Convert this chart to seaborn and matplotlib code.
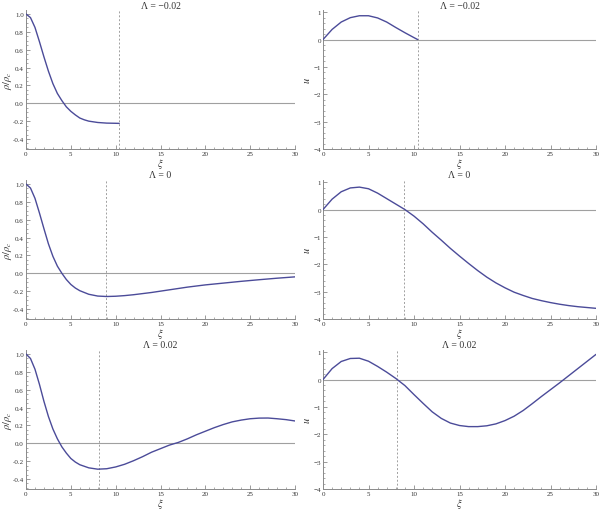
import matplotlib
matplotlib.use("Agg")
import matplotlib.pyplot as plt
import seaborn as sns
from matplotlib.ticker import MultipleLocator, FormatStrFormatter

# values
titles = ["Λ = −0.02", "Λ = 0", "Λ = 0.02"]
xi_zero = [10.4, 8.95, 8.1]   # where u falls to zero (dashed line)

# row 1: Λ = -0.02
xi_rho_a = [0, 0.5, 1, 1.5, 2, 2.5, 3, 3.5, 4, 4.5, 5, 5.5, 6, 6.5, 7, 8, 9, 10, 10.4]
rho_a = [1.0, 0.96, 0.85, 0.69, 0.52, 0.36, 0.22, 0.11, 0.03, -0.04, -0.09, -0.13,
         -0.165, -0.185, -0.2, -0.215, -0.222, -0.224, -0.225]
xi_u_a = [0, 1, 2, 3, 4, 5, 6, 7, 8, 9, 10, 10.4]
u_a = [0, 0.37, 0.64, 0.80, 0.87, 0.87, 0.79, 0.64, 0.44, 0.25, 0.07, 0.0]

# row 2: Λ = 0
xi_rho_b = [0, 0.5, 1, 1.5, 2, 2.5, 3, 3.5, 4, 4.5, 5, 5.5, 6, 7, 8, 9, 10, 11, 12,
            14, 16, 18, 20, 22, 24, 26, 28, 30]
rho_b = [1.0, 0.955, 0.84, 0.675, 0.5, 0.33, 0.19, 0.08, 0.0, -0.07, -0.125, -0.165,
         -0.195, -0.235, -0.255, -0.26, -0.257, -0.25, -0.24, -0.215, -0.185, -0.155,
         -0.13, -0.11, -0.09, -0.072, -0.055, -0.04]
xi_u_b = list(range(0, 31))
u_b = [0, 0.38, 0.65, 0.79, 0.82, 0.76, 0.60, 0.40, 0.20, 0.0, -0.24, -0.52, -0.83,
       -1.12, -1.42, -1.70, -1.97, -2.23, -2.47, -2.68, -2.86, -3.02, -3.14, -3.25,
       -3.33, -3.40, -3.46, -3.51, -3.55, -3.58, -3.61]

# row 3: Λ = 0.02
xi_rho_c = [0, 0.5, 1, 1.5, 2, 2.5, 3, 3.5, 4, 4.5, 5, 5.5, 6, 7, 8, 9, 10, 11, 12,
            13, 14, 15, 16, 17, 18, 19, 20, 21, 22, 23, 24, 25, 26, 27, 28, 29, 30]
rho_c = [1.0, 0.95, 0.83, 0.66, 0.47, 0.3, 0.16, 0.05, -0.04, -0.11, -0.17, -0.21,
         -0.24, -0.275, -0.29, -0.285, -0.265, -0.235, -0.195, -0.15, -0.1, -0.06,
         -0.02, 0.01, 0.05, 0.095, 0.135, 0.175, 0.21, 0.24, 0.26, 0.275, 0.282,
         0.283, 0.275, 0.265, 0.25]
xi_u_c = list(range(0, 31))
u_c = [0, 0.40, 0.66, 0.77, 0.78, 0.67, 0.48, 0.27, 0.04, -0.22, -0.55, -0.87, -1.18,
       -1.42, -1.59, -1.68, -1.72, -1.72, -1.69, -1.62, -1.50, -1.34, -1.13, -0.88,
       -0.62, -0.37, -0.12, 0.14, 0.40, 0.66, 0.92]

rows = [(xi_rho_a, rho_a, xi_u_a, u_a),
        (xi_rho_b, rho_b, xi_u_b, u_b),
        (xi_rho_c, rho_c, xi_u_c, u_c)]

sns.set_theme(style="ticks")
plt.rcParams['font.family'] = ['Liberation Serif', 'DejaVu Serif']
plt.rcParams['mathtext.fontset'] = 'stix'

curve_col = "#4b4b99"
axis_col = "#8a8a8a"
text_col = "#333333"

fig = plt.figure(figsize=(6, 5.1), dpi=100)

# axes boxes in pixels (left, top, right, bottom) of the 600x510 picture
col_x = [(26, 295), (323, 596)]
row_y = [(11, 150), (181, 320), (351, 490)]
ylab_x = [-0.07, -0.059]


def style_axes(ax, left_col):
    for s in ["top", "right"]:
        ax.spines[s].set_visible(False)
    for s in ["left", "bottom"]:
        ax.spines[s].set_color(axis_col)
        ax.spines[s].set_linewidth(0.7)
    ax.set_xlim(0, 30)
    ax.xaxis.set_major_locator(MultipleLocator(5))
    ax.xaxis.set_minor_locator(MultipleLocator(1))
    if left_col:
        ax.set_ylim(-0.512, 1.045)
        ax.yaxis.set_major_locator(MultipleLocator(0.2))
        ax.yaxis.set_minor_locator(MultipleLocator(0.05))
        ax.yaxis.set_major_formatter(FormatStrFormatter('%.1f'))
    else:
        ax.set_ylim(-4, 1.08)
        ax.yaxis.set_major_locator(MultipleLocator(1))
        ax.yaxis.set_minor_locator(MultipleLocator(0.2))
    ax.tick_params(which='both', direction='in', color=axis_col, labelsize=5,
                   labelcolor=text_col, pad=1.5)
    ax.tick_params(which='major', length=3, width=0.6)
    ax.tick_params(which='minor', length=1.5, width=0.5)


for r, (xr, yr, xu, yu) in enumerate(rows):
    top, bot = row_y[r]
    h = bot - top
    for c in range(2):
        x0, x1 = col_x[c]
        ax = fig.add_axes([x0 / 600, 1 - bot / 510, (x1 - x0) / 600, h / 510])
        style_axes(ax, c == 0)
        ax.axhline(0, color="#a0a0a0", lw=0.8, zorder=1)
        ax.axvline(xi_zero[r], color="#a0a0a0", lw=0.7, ls=(0, (2, 2)), zorder=1)
        if c == 0:
            sns.lineplot(x=xr, y=yr, ax=ax, color=curve_col, lw=1.0, zorder=3)
            ax.set_ylabel(r"$\rho/\rho_c$", fontsize=7.5, color=text_col)
        else:
            sns.lineplot(x=xu, y=yu, ax=ax, color=curve_col, lw=1.0, zorder=3)
            ax.set_ylabel(r"$u$", fontsize=7.5, color=text_col)
        ax.yaxis.set_label_coords(ylab_x[c], 0.5)
        ax.yaxis.label.set_va('center')
        ax.set_xlabel(r"$\xi$", fontsize=7.5, color=text_col)
        ax.xaxis.set_label_coords(0.5, -14 / h)
        ax.xaxis.label.set_va('center')
        ax.text(0.5, 1 + 5 / h, titles[r], transform=ax.transAxes, ha='center',
                va='center', fontsize=7, color=text_col)

fig.savefig("out.png", dpi=100)
